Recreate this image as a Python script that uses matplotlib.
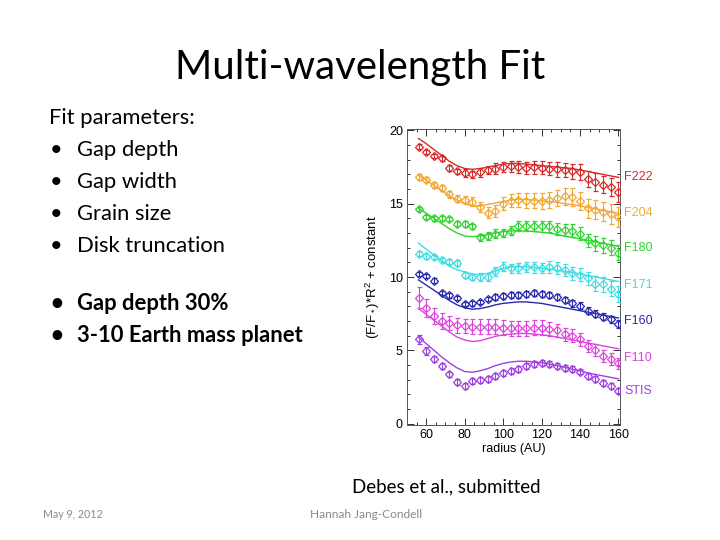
import matplotlib
matplotlib.use("Agg")
import matplotlib.pyplot as plt
from matplotlib.ticker import MultipleLocator

plt.rcParams['mathtext.default'] = 'regular'

# ---------------- data ----------------
radius = [56, 60, 64, 68, 72, 76, 80, 84, 88, 92, 96, 100, 104, 108, 112,
          116, 120, 124, 128, 132, 136, 140, 144, 148, 152, 156, 160]

band_names = ["F222", "F204", "F180", "F171", "F160", "F110", "STIS"]

f222_obs = [18.9, 18.55, 18.25, 18.1, 17.45, 17.2, 17.1, 17.0, 17.15, 17.3, 17.4, 17.5, 17.55, 17.5,
            17.45, 17.5, 17.45, 17.4, 17.35, 17.3, 17.2, 17.15, 16.7, 16.5, 16.3, 16.15, 15.8]
f222_err = [0.15, 0.15, 0.15, 0.15, 0.2, 0.2, 0.25, 0.25, 0.3, 0.3, 0.35, 0.35, 0.4, 0.4,
            0.4, 0.45, 0.45, 0.45, 0.5, 0.5, 0.5, 0.55, 0.55, 0.6, 0.6, 0.6, 0.65]
f222_fit = [19.45, 19.1, 18.7, 18.3, 17.9, 17.6, 17.4, 17.35, 17.4, 17.5, 17.6, 17.7, 17.75, 17.75,
            17.7, 17.65, 17.6, 17.55, 17.5, 17.45, 17.4, 17.3, 17.2, 17.1, 17.0, 16.9, 16.8]

f204_obs = [16.85, 16.65, 16.3, 16.1, 15.65, 15.35, 15.25, 15.15, 14.8, 14.4, 14.5, 15.0, 15.2, 15.25,
            15.2, 15.2, 15.2, 15.25, 15.4, 15.5, 15.45, 15.2, 14.7, 14.6, 14.45, 14.3, 14.1]
f204_err = [0.2, 0.2, 0.2, 0.2, 0.25, 0.25, 0.3, 0.3, 0.35, 0.4, 0.4, 0.45, 0.45, 0.5,
            0.5, 0.5, 0.55, 0.55, 0.55, 0.6, 0.6, 0.6, 0.65, 0.65, 0.65, 0.7, 0.7]
f204_fit = [16.95, 16.6, 16.25, 15.9, 15.55, 15.25, 15.0, 14.85, 14.85, 14.95, 15.05, 15.15, 15.25, 15.3,
            15.3, 15.25, 15.2, 15.15, 15.1, 15.0, 14.95, 14.85, 14.75, 14.65, 14.55, 14.45, 14.35]

f180_obs = [14.65, 14.1, 14.0, 14.0, 13.95, 13.65, 13.6, 13.45, 12.7, 12.8, 12.95, 13.0, 13.15, 13.5,
            13.5, 13.5, 13.45, 13.45, 13.3, 13.2, 13.15, 12.95, 12.5, 12.3, 12.15, 12.0, 11.65]
f180_err = [0.15, 0.15, 0.15, 0.15, 0.15, 0.2, 0.2, 0.2, 0.25, 0.25, 0.3, 0.3, 0.3, 0.35,
            0.35, 0.35, 0.35, 0.4, 0.4, 0.4, 0.45, 0.45, 0.45, 0.5, 0.5, 0.5, 0.5]
f180_fit = [14.7, 14.35, 14.0, 13.65, 13.3, 13.0, 12.8, 12.75, 12.8, 12.9, 13.0, 13.1, 13.15, 13.15,
            13.15, 13.1, 13.05, 13.0, 12.9, 12.8, 12.7, 12.6, 12.5, 12.4, 12.3, 12.2, 12.1]

f171_obs = [11.6, 11.4, 11.35, 11.15, 11.05, 10.95, 10.15, 10.0, 10.0, 10.0, 10.4, 10.7, 10.6, 10.6,
            10.7, 10.65, 10.6, 10.7, 10.6, 10.5, 10.25, 10.15, 9.9, 9.55, 9.5, 9.2, 8.85]
f171_err = [0.15, 0.15, 0.15, 0.15, 0.15, 0.2, 0.2, 0.2, 0.25, 0.25, 0.3, 0.3, 0.3, 0.35,
            0.35, 0.35, 0.35, 0.4, 0.4, 0.4, 0.45, 0.45, 0.45, 0.5, 0.5, 0.5, 0.55]
f171_fit = [12.3, 11.9, 11.5, 11.1, 10.75, 10.5, 10.35, 10.2, 10.15, 10.25, 10.4, 10.6, 10.7, 10.7,
            10.7, 10.65, 10.6, 10.55, 10.45, 10.4, 10.3, 10.2, 10.1, 10.0, 9.9, 9.8, 9.7]

f160_obs = [10.2, 10.05, 9.75, 8.9, 8.75, 8.55, 8.15, 8.2, 8.3, 8.5, 8.65, 8.7, 8.75, 8.8,
            8.85, 8.9, 8.85, 8.75, 8.65, 8.45, 8.2, 8.05, 7.7, 7.5, 7.3, 7.1, 6.8]
f160_err = [0.15, 0.15, 0.15, 0.15, 0.15, 0.15, 0.15, 0.15, 0.15, 0.15, 0.2, 0.2, 0.2, 0.2,
            0.2, 0.2, 0.2, 0.2, 0.2, 0.2, 0.25, 0.25, 0.25, 0.25, 0.25, 0.25, 0.25]
f160_fit = [9.8, 9.45, 9.1, 8.75, 8.4, 8.1, 7.9, 7.8, 7.85, 7.95, 8.1, 8.2, 8.25, 8.3,
            8.3, 8.25, 8.2, 8.1, 8.0, 7.9, 7.8, 7.7, 7.6, 7.5, 7.4, 7.3, 7.2]

f110_obs = [8.6, 7.9, 7.35, 7.0, 6.85, 6.7, 6.65, 6.6, 6.6, 6.6, 6.6, 6.55, 6.5, 6.5,
            6.5, 6.55, 6.55, 6.45, 6.35, 6.1, 6.0, 5.75, 5.3, 5.0, 4.6, 4.4, 4.1]
f110_err = [0.7, 0.6, 0.55, 0.55, 0.5, 0.5, 0.5, 0.5, 0.5, 0.5, 0.5, 0.5, 0.5, 0.5,
            0.5, 0.5, 0.5, 0.45, 0.45, 0.45, 0.45, 0.45, 0.4, 0.4, 0.4, 0.4, 0.4]
f110_fit = [7.85, 7.45, 7.05, 6.65, 6.25, 5.9, 5.7, 5.6, 5.65, 5.8, 5.95, 6.05, 6.1, 6.15,
            6.15, 6.1, 6.05, 6.0, 5.9, 5.8, 5.7, 5.6, 5.5, 5.4, 5.3, 5.2, 5.1]

stis_obs = [5.75, 4.95, 4.4, 3.9, 3.35, 2.85, 2.55, 2.9, 3.0, 3.05, 3.25, 3.45, 3.6, 3.7,
            3.9, 4.05, 4.15, 4.05, 3.9, 3.8, 3.7, 3.55, 3.25, 3.05, 2.75, 2.55, 2.25]
stis_err = [0.3, 0.25, 0.2, 0.2, 0.2, 0.2, 0.2, 0.2, 0.2, 0.2, 0.2, 0.2, 0.2, 0.2,
            0.2, 0.2, 0.2, 0.2, 0.2, 0.2, 0.2, 0.2, 0.2, 0.2, 0.2, 0.2, 0.2]
stis_fit = [5.9, 5.45, 5.0, 4.55, 4.15, 3.8, 3.55, 3.5, 3.6, 3.75, 3.95, 4.1, 4.2, 4.25,
            4.25, 4.2, 4.15, 4.05, 3.95, 3.85, 3.7, 3.6, 3.45, 3.35, 3.25, 3.15, 3.05]

observed = [f222_obs, f204_obs, f180_obs, f171_obs, f160_obs, f110_obs, stis_obs]
errors = [f222_err, f204_err, f180_err, f171_err, f160_err, f110_err, stis_err]
fits = [f222_fit, f204_fit, f180_fit, f171_fit, f160_fit, f110_fit, stis_fit]

# ---------------- style ----------------
colors = ["#d42a2a", "#f0a830", "#2fd42f", "#3fdde3", "#2a2ab0", "#dd44dd", "#a040e0"]
label_y = [16.8, 14.4, 12.0, 9.45, 7.0, 4.5, 2.2]

W, H = 720, 540
fig = plt.figure(figsize=(7.2, 5.4), dpi=100)
fig.patch.set_facecolor("white")

def fx(px):
    return px / W

def fy(py):
    return 1 - py / H

slide_font = "Lato"
body_size = 15.8

fig.text(fx(360), fy(68), "Multi-wavelength Fit", ha="center", va="center",
         fontsize=29, family=slide_font, color="black")

fig.text(fx(49), fy(118), "Fit parameters:", ha="left", va="center",
         fontsize=body_size, family=slide_font)
for i, item in enumerate(["Gap depth", "Gap width", "Grain size", "Disk truncation"]):
    yy = 150 + 32 * i
    fig.text(fx(50), fy(yy), "\u2022", ha="left", va="center", fontsize=body_size, family=slide_font)
    fig.text(fx(77), fy(yy), item, ha="left", va="center", fontsize=body_size, family=slide_font)

for i, item in enumerate(["Gap depth 30%", "3-10 Earth mass planet"]):
    yy = 303 + 32 * i
    fig.text(fx(50), fy(yy), "\u2022", ha="left", va="center", fontsize=body_size,
             family=slide_font, weight="bold")
    fig.text(fx(77), fy(yy), item, ha="left", va="center", fontsize=body_size,
             family=slide_font, weight="bold")

fig.text(fx(352), fy(487), "Debes et al., submitted", ha="left", va="center",
         fontsize=13.5, family=slide_font)
fig.text(fx(43), fy(515), "May 9, 2012", ha="left", va="center",
         fontsize=7.7, family=slide_font, color="#8a8a8a")
fig.text(fx(310), fy(515), "Hannah Jang-Condell", ha="left", va="center",
         fontsize=8.6, family=slide_font, color="#8a8a8a")

# ---------------- chart ----------------
ax = fig.add_axes([fx(407), fy(425), (620 - 407) / W, (425 - 129) / H])
chart_font = "Liberation Sans"

for obs, err, fit, col, name, ly in zip(observed, errors, fits, colors, band_names, label_y):
    ax.plot(radius, fit, color=col, lw=1.0, zorder=2)
    ax.errorbar(radius, obs, yerr=err, fmt="D", ms=4.5, mfc="none", mec=col, mew=0.9,
                ecolor=col, elinewidth=0.8, capsize=1.8, capthick=0.8, color=col, zorder=3)
    ax.text(163, ly, name, color=col, fontsize=9, family=chart_font,
            ha="left", va="center", clip_on=False)

ax.set_xlim(50, 160.8)
ax.set_ylim(-0.1, 20.1)
ax.xaxis.set_major_locator(MultipleLocator(20))
ax.xaxis.set_minor_locator(MultipleLocator(5))
ax.yaxis.set_major_locator(MultipleLocator(5))
ax.yaxis.set_minor_locator(MultipleLocator(1))
ax.tick_params(which="both", direction="in", top=True, right=True, width=0.7, colors="#333333",
               labelcolor="black")
ax.tick_params(which="major", length=5, labelsize=9, pad=3)
ax.tick_params(which="minor", length=2.5)
for lab in ax.get_xticklabels() + ax.get_yticklabels():
    lab.set_family(chart_font)
for s in ax.spines.values():
    s.set_linewidth(0.7)
    s.set_color("#555555")

ax.set_xlabel("radius (AU)", fontsize=9, family=chart_font, labelpad=1)
ax.set_ylabel("(F/F$_*$)*R$^2$ + constant", fontsize=9.5, family=chart_font, labelpad=5)

fig.savefig("out.png", dpi=100, facecolor="white")
